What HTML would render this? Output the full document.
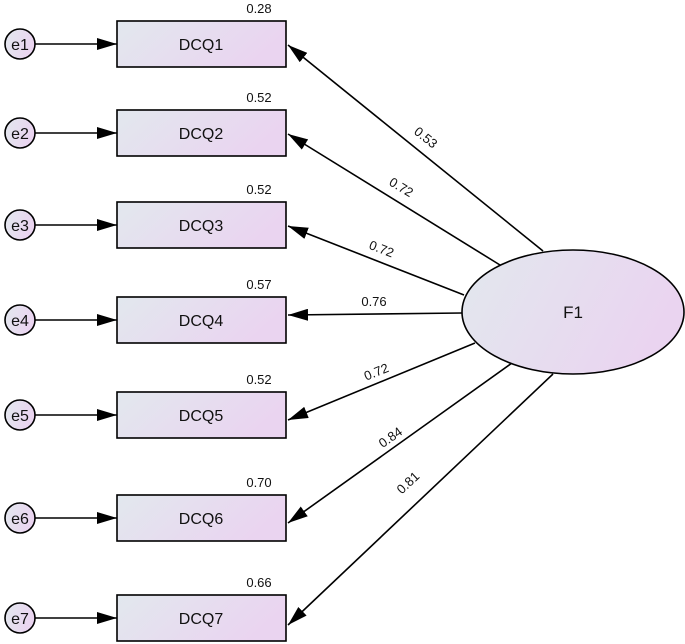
<!DOCTYPE html>
<html><head><style>body{margin:0;background:#fff}svg{display:block}text{font-family:"Liberation Sans",Arial,sans-serif;fill:#111}</style></head>
<body>
<svg width="685" height="644" viewBox="0 0 685 644" xmlns="http://www.w3.org/2000/svg">
<defs>
<linearGradient id="g" x1="0" y1="0" x2="1" y2="0.3"><stop offset="0" stop-color="#e2e8ee"/><stop offset="1" stop-color="#ead4f0"/></linearGradient>
<marker id="a" markerWidth="10" markerHeight="8" refX="10" refY="4" orient="auto" markerUnits="userSpaceOnUse"><path d="M0,0 L10,4 L0,8 Z" fill="#000"/></marker>
<marker id="b" markerWidth="20" markerHeight="12" refX="20" refY="6" orient="auto" markerUnits="userSpaceOnUse"><path d="M0,0 L20,6 L0,12 Z" fill="#000"/></marker>
</defs>
<g stroke="#000" stroke-width="1.6" fill="none">
<line x1="543" y1="251" x2="288" y2="45" marker-end="url(#b)"/>
<line x1="500" y1="265" x2="288" y2="134" marker-end="url(#b)"/>
<line x1="464" y1="295" x2="288" y2="226" marker-end="url(#b)"/>
<line x1="462" y1="313" x2="288" y2="315" marker-end="url(#b)"/>
<line x1="475" y1="343" x2="288" y2="420" marker-end="url(#b)"/>
<line x1="512" y1="363" x2="288" y2="523" marker-end="url(#b)"/>
<line x1="553" y1="374" x2="288" y2="625" marker-end="url(#b)"/>
</g>
<ellipse cx="573" cy="312" rx="111" ry="62" fill="url(#g)" stroke="#000" stroke-width="1.6"/>
<text x="573" y="318" font-size="17" text-anchor="middle">F1</text>
<g font-size="16" text-anchor="middle">
<g id="r">
</g>
</g>
<g stroke="#000" stroke-width="1.6">
<line x1="35" y1="44" x2="117" y2="44" marker-end="url(#b)"/>
<line x1="35" y1="133" x2="117" y2="133" marker-end="url(#b)"/>
<line x1="35" y1="225" x2="117" y2="225" marker-end="url(#b)"/>
<line x1="35" y1="320" x2="117" y2="320" marker-end="url(#b)"/>
<line x1="35" y1="415" x2="117" y2="415" marker-end="url(#b)"/>
<line x1="35" y1="518" x2="117" y2="518" marker-end="url(#b)"/>
<line x1="35" y1="618" x2="117" y2="618" marker-end="url(#b)"/>
</g>
<g stroke="#000" stroke-width="1.6" fill="url(#g)">
<rect x="117" y="21" width="169" height="46"/><rect x="117" y="110" width="169" height="46"/>
<rect x="117" y="202" width="169" height="46"/><rect x="117" y="297" width="169" height="46"/>
<rect x="117" y="392" width="169" height="46"/><rect x="117" y="495" width="169" height="46"/>
<rect x="117" y="595" width="169" height="46"/>
<circle cx="20" cy="44" r="15"/><circle cx="20" cy="133" r="15"/><circle cx="20" cy="225" r="15"/>
<circle cx="20" cy="320" r="15"/><circle cx="20" cy="415" r="15"/><circle cx="20" cy="518" r="15"/><circle cx="20" cy="618" r="15"/>
</g>
<g font-size="16" text-anchor="middle">
<text x="201" y="50">DCQ1</text><text x="201" y="139">DCQ2</text><text x="201" y="231">DCQ3</text>
<text x="201" y="326">DCQ4</text><text x="201" y="421">DCQ5</text><text x="201" y="524">DCQ6</text><text x="201" y="624">DCQ7</text>
<text x="20" y="50">e1</text><text x="20" y="139">e2</text><text x="20" y="231">e3</text><text x="20" y="326">e4</text>
<text x="20" y="421">e5</text><text x="20" y="524">e6</text><text x="20" y="624">e7</text>
</g>
<g font-size="13" text-anchor="middle">
<text x="259" y="13">0.28</text><text x="259" y="102">0.52</text><text x="259" y="194">0.52</text>
<text x="259" y="289">0.57</text><text x="259" y="384">0.52</text><text x="259" y="487">0.70</text><text x="259" y="587">0.66</text>
<text transform="translate(423,141) rotate(39)">0.53</text>
<text transform="translate(399,191) rotate(31)">0.72</text>
<text transform="translate(380,253) rotate(21)">0.72</text>
<text x="374" y="306">0.76</text>
<text transform="translate(378,376) rotate(-22)">0.72</text>
<text transform="translate(393,441) rotate(-35)">0.84</text>
<text transform="translate(411,486) rotate(-43)">0.81</text>
</g>
</svg>
</body></html>
